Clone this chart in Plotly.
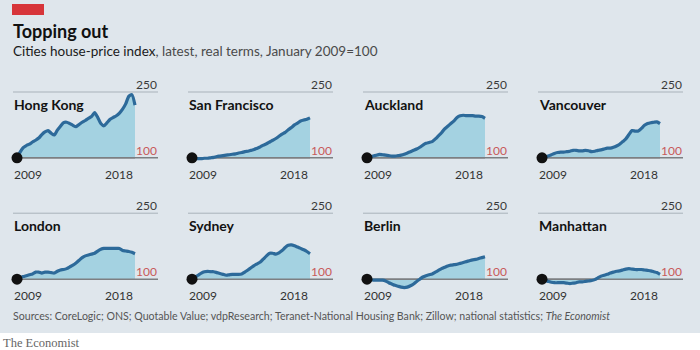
import plotly.graph_objects as go

# ---------------- data ----------------
quarters = [2009 + 0.25 * i for i in range(39)]  # Q1 2009 .. Q3 2018

cities = ["Hong Kong", "San Francisco", "Auckland", "Vancouver",
          "London", "Sydney", "Berlin", "Manhattan"]

hong_kong = [100, 113, 123, 128, 131, 136, 140, 145, 153, 159, 162, 156, 152, 163, 172, 180,
             181, 178, 174, 171, 176, 181, 185, 190, 194, 203, 192, 178, 173, 180, 188, 192,
             196, 202, 211, 223, 240, 244, 220]
san_francisco = [100, 98, 98, 98, 99, 99, 100, 101, 103, 104, 105, 106, 107, 108, 109, 111,
                 112, 114, 115, 117, 119, 122, 125, 129, 132, 136, 140, 144, 149, 154, 158, 164,
                 169, 175, 179, 184, 186, 188, 191]
auckland = [100, 102, 104, 106, 108, 107, 106, 105, 104, 104, 105, 106, 108, 111, 114, 117,
            120, 124, 129, 133, 135, 137, 143, 150, 157, 166, 172, 178, 184, 192, 196, 197,
            196, 196, 196, 195, 195, 194, 190]
vancouver = [100, 102, 104, 107, 110, 112, 113, 113, 114, 115, 117, 117, 116, 116, 117, 116,
             114, 115, 117, 118, 120, 122, 122, 124, 127, 131, 137, 143, 153, 162, 161, 161,
             167, 174, 178, 180, 181, 182, 178]
london = [100, 103, 106, 108, 110, 112, 116, 116, 114, 116, 116, 115, 114, 118, 121, 122,
          124, 128, 132, 137, 143, 149, 153, 155, 157, 159, 164, 168, 170, 170, 170, 170,
          170, 170, 165, 164, 163, 161, 158]
sydney = [100, 105, 109, 114, 117, 118, 117, 117, 115, 113, 111, 109, 110, 111, 111, 111,
          112, 116, 121, 126, 131, 135, 139, 146, 153, 159, 159, 157, 160, 165, 172, 177,
          178, 176, 173, 170, 167, 163, 158]
berlin = [100, 99, 98, 98, 98, 98, 96, 92, 89, 86, 84, 82, 81, 82, 85, 89,
          95, 100, 105, 108, 110, 112, 116, 120, 124, 127, 130, 132, 133, 134, 136, 138,
          140, 142, 144, 145, 147, 149, 151]
manhattan = [100, 97, 95, 93, 92, 92, 92, 92, 91, 90, 91, 92, 94, 94, 95, 96,
             97, 99, 103, 107, 109, 111, 114, 116, 118, 119, 121, 123, 124, 123, 122, 122,
             122, 121, 120, 119, 117, 115, 111]

series = [hong_kong, san_francisco, auckland, vancouver,
          london, sydney, berlin, manhattan]

base_value = 100
top_value = 250
tick_labels = ["2009", "2018"]

# ---------------- styling / layout ----------------
W, H = 700, 350
BG = "#dfe6ec"
FILL = "#a4d2e1"
LINE = "#2d6a9a"
RED_TXT = "#c8595a"
FONT = "Lato"

col_dot = [17, 192, 367, 542]
span = 118
row_y100 = [157.8, 279.2]
row_y250 = [92.0, 213.2]


def px_x(p):
    return p / W


def px_y(p):
    return 1 - p / H


fig = go.Figure()
annotations = []
shapes = []

# background band
shapes.append(dict(type="rect", xref="paper", yref="paper", x0=0, x1=1,
                   y0=px_y(333), y1=px_y(0), fillcolor=BG, line_width=0, layer="below"))
# red tag
shapes.append(dict(type="rect", xref="paper", yref="paper", x0=px_x(12), x1=px_x(44),
                   y0=px_y(15), y1=px_y(4), fillcolor="#d7353a", line_width=0, layer="below"))

x0 = quarters[0]
x1 = quarters[-1]
k = span / (x1 - x0)

for i, (name, vals) in enumerate(zip(cities, series)):
    r, c = divmod(i, 4)
    n = i + 1
    xa = "x" if n == 1 else f"x{n}"
    ya = "y" if n == 1 else f"y{n}"
    dot = col_dot[c]
    left_px = dot - 4
    right_px = dot + span + 23
    y100 = row_y100[r]
    y250 = row_y250[r]
    top_px = y250 - 14
    bot_px = y100 + 12
    ppu = (y100 - y250) / (top_value - base_value)
    ymin = base_value - (bot_px - y100) / ppu
    ymax = top_value + (y250 - top_px) / ppu
    xmin = x0 - (dot - left_px) / k
    xmax = x1 + (right_px - (dot + span)) / k

    fig.layout[f"xaxis{'' if n == 1 else n}"] = dict(
        domain=[px_x(left_px), px_x(right_px)], range=[xmin, xmax], anchor=ya,
        showgrid=False, zeroline=False, showticklabels=False, showline=False, fixedrange=True)
    fig.layout[f"yaxis{'' if n == 1 else n}"] = dict(
        domain=[px_y(bot_px), px_y(top_px)], range=[ymin, ymax], anchor=xa,
        showgrid=False, zeroline=False, showticklabels=False, showline=False, fixedrange=True)

    xd = xa + " domain"
    # 250 gridline and 100 baseline
    shapes.append(dict(type="line", xref=xd, yref=ya, x0=0, x1=1, y0=top_value, y1=top_value,
                       line=dict(color="#a9b2ba", width=1), layer="below"))
    shapes.append(dict(type="line", xref=xd, yref=ya, x0=0, x1=1, y0=base_value, y1=base_value,
                       line=dict(color="#7d7f82", width=1.5), layer="below"))

    fig.add_trace(go.Scatter(x=quarters, y=[base_value] * len(quarters), xaxis=xa, yaxis=ya,
                             mode="lines", line=dict(color="#7d7f82", width=1.5),
                             hoverinfo="skip", showlegend=False))
    fig.add_trace(go.Scatter(x=quarters, y=vals, xaxis=xa, yaxis=ya, mode="lines",
                             fill="tonexty", fillcolor=FILL,
                             line=dict(color=LINE, width=3.2, shape="spline", smoothing=0.6),
                             showlegend=False))
    fig.add_trace(go.Scatter(x=[quarters[0]], y=[vals[0]], xaxis=xa, yaxis=ya, mode="markers",
                             marker=dict(color="#111111", size=11), cliponaxis=False,
                             showlegend=False))

    # city name
    annotations.append(dict(xref="paper", yref="paper", x=px_x(left_px - 1), y=px_y(y250 + 12),
                            xanchor="left", yanchor="middle", showarrow=False, text=name,
                            font=dict(family=FONT, size=14, color="#121212", weight=700)))
    # value labels
    annotations.append(dict(xref=xd, yref=ya, x=1, y=top_value, xanchor="right", yanchor="bottom",
                            showarrow=False, text=str(top_value), yshift=-1, borderpad=0,
                            font=dict(family=FONT, size=12, color="#3a3a3a")))
    annotations.append(dict(xref=xd, yref=ya, x=1, y=base_value, xanchor="right", yanchor="bottom",
                            showarrow=False, text=str(base_value), yshift=-1, borderpad=0,
                            font=dict(family=FONT, size=12, color=RED_TXT)))
    # year labels
    annotations.append(dict(xref=xa, yref=ya, x=x0, y=base_value, xanchor="left", yanchor="top",
                            xshift=-4, yshift=-8, showarrow=False, text=tick_labels[0], borderpad=0,
                            font=dict(family=FONT, size=12, color="#333333")))
    annotations.append(dict(xref=xa, yref=ya, x=x1, y=base_value, xanchor="right", yanchor="top",
                            xshift=-1, yshift=-8, showarrow=False, text=tick_labels[1], borderpad=0,
                            font=dict(family=FONT, size=12, color="#333333")))

# titles
annotations.append(dict(xref="paper", yref="paper", x=px_x(11), y=px_y(31), xanchor="left",
                        yanchor="middle", showarrow=False, text="Topping out",
                        font=dict(family=FONT, size=18, color="#111111", weight=700)))
annotations.append(dict(xref="paper", yref="paper", x=px_x(11), y=px_y(51), xanchor="left",
                        yanchor="middle", showarrow=False,
                        text="Cities house-price index<span style='color:#4a4a4a'>, latest, real terms, January 2009=100</span>",
                        font=dict(family=FONT, size=13.5, color="#1a1a1a")))
annotations.append(dict(xref="paper", yref="paper", x=px_x(11), y=px_y(315.5), xanchor="left",
                        yanchor="middle", showarrow=False,
                        text="Sources: CoreLogic; ONS; Quotable Value; vdpResearch; Teranet-National Housing Bank; Zillow; national statistics; <i>The Economist</i>",
                        font=dict(family=FONT, size=10.6, color="#555555")))
annotations.append(dict(xref="paper", yref="paper", x=px_x(1), y=px_y(343), xanchor="left",
                        yanchor="middle", showarrow=False, text="The Economist",
                        font=dict(family="Liberation Serif", size=12.5, color="#666666")))

fig.update_layout(width=W, height=H, margin=dict(l=0, r=0, t=0, b=0),
                  paper_bgcolor="white", plot_bgcolor="rgba(0,0,0,0)",
                  shapes=shapes, annotations=annotations, showlegend=False)

fig.write_html("out.html", config={"displayModeBar": False})
